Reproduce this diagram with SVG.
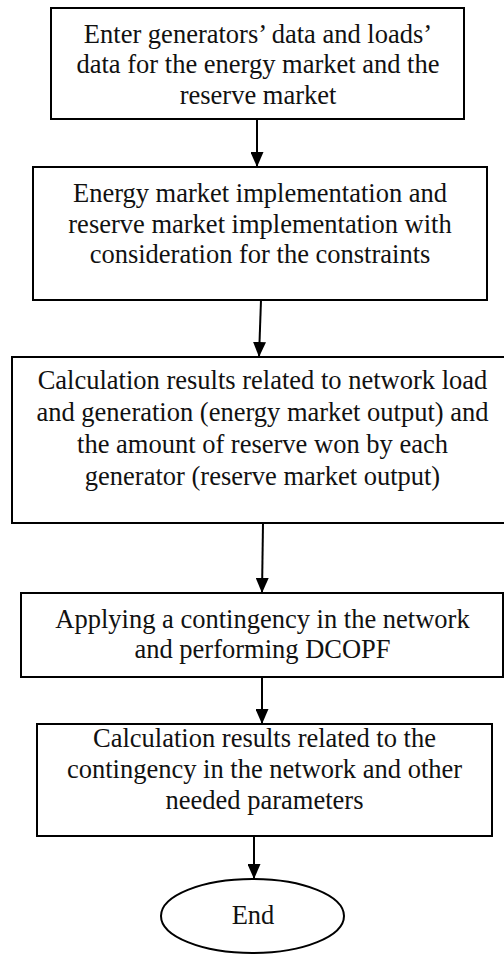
<svg xmlns="http://www.w3.org/2000/svg" width="504" height="954" viewBox="0 0 504 954">
<style>
.box{fill:#fff;stroke:#000;stroke-width:2}
.t{font-family:"Liberation Serif","Times New Roman",serif;font-size:26.5px;fill:#111;text-anchor:middle}
.c{stroke:#000;stroke-width:2;fill:none;marker-end:url(#ah)}
</style>
<defs>
<marker id="ah" markerUnits="userSpaceOnUse" markerWidth="15" markerHeight="13" refX="15" refY="6.5" orient="auto" viewBox="0 0 15 13">
<path d="M0,0 L15,6.5 L0,13 Z" fill="#000"/>
</marker>
</defs>
<rect width="504" height="954" fill="#fff"/>
<g id="n1">
<rect class="box" x="51" y="8" width="413" height="111"/>
<text class="t" x="258" y="43">Enter generators’ data and loads’</text>
<text class="t" x="258" y="73">data for the energy market and the</text>
<text class="t" x="258" y="104">reserve market</text>
</g>
<g id="n2">
<rect class="box" x="33" y="167" width="454" height="133"/>
<text class="t" x="260" y="202">Energy market implementation and</text>
<text class="t" x="260" y="233">reserve market implementation with</text>
<text class="t" x="260" y="263">consideration for the constraints</text>
</g>
<g id="n3">
<rect class="box" x="12" y="357" width="500" height="166"/>
<text class="t" x="262.5" y="389">Calculation results related to network load</text>
<text class="t" x="262.5" y="421">and generation (energy market output) and</text>
<text class="t" x="262.5" y="453">the amount of reserve won by each</text>
<text class="t" x="262.5" y="485">generator (reserve market output)</text>
</g>
<g id="n4">
<rect class="box" x="21" y="593" width="482" height="84"/>
<text class="t" x="262.5" y="628">Applying a contingency in the network</text>
<text class="t" x="262.5" y="658">and performing DCOPF</text>
</g>
<g id="n5">
<rect class="box" x="37" y="724" width="455" height="112"/>
<text class="t" x="264.5" y="747">Calculation results related to the</text>
<text class="t" x="264.5" y="778">contingency in the network and other</text>
<text class="t" x="264.5" y="809">needed parameters</text>
</g>
<g id="n6">
<ellipse cx="252.5" cy="916" rx="91.5" ry="37" fill="#fff" stroke="#000" stroke-width="2"/>
<text class="t" x="253" y="924">End</text>
</g>
<g id="connectors">
<line class="c" x1="257" y1="119" x2="257" y2="167"/>
<line class="c" x1="261" y1="300" x2="259" y2="357"/>
<line class="c" x1="263" y1="523" x2="262" y2="593"/>
<line class="c" x1="262" y1="677" x2="262" y2="724"/>
<line class="c" x1="254" y1="836" x2="254" y2="879"/>
</g>
</svg>
